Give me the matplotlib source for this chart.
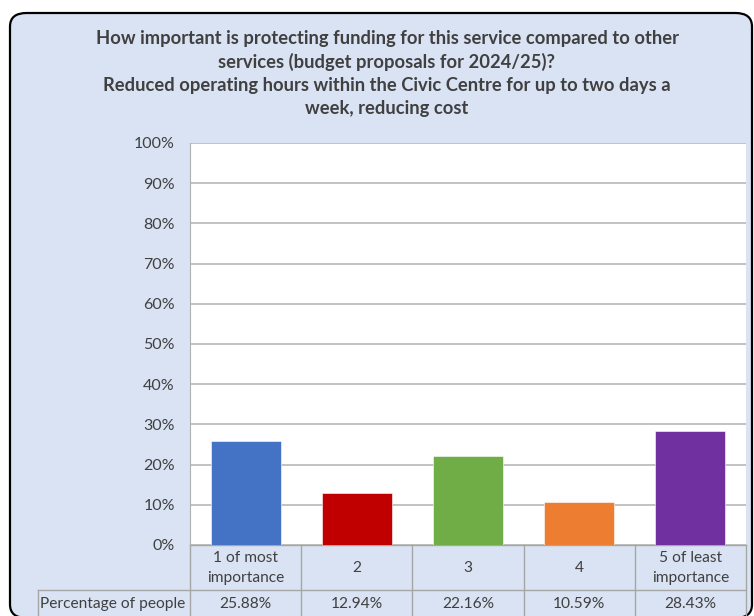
import matplotlib
matplotlib.use('Agg')
import matplotlib.pyplot as plt
from matplotlib.patches import FancyBboxPatch
import matplotlib.transforms as mtransforms

plt.rcParams['font.family'] = ['Lato', 'DejaVu Sans']

categories = ['1 of most\nimportance', '2', '3', '4', '5 of least\nimportance']
values = [25.88, 12.94, 22.16, 10.59, 28.43]
value_labels = ['25.88%', '12.94%', '22.16%', '10.59%', '28.43%']
row_label = 'Percentage of people'
colors = ['#4472c4', '#c00000', '#70ad47', '#ed7d31', '#7030a0']
title = ('How important is protecting funding for this service compared to other\n'
         'services (budget proposals for 2024/25)?\n'
         'Reduced operating hours within the Civic Centre for up to two days a\n'
         'week, reducing cost')

W, H = 754, 616
fig = plt.figure(figsize=(W/100, H/100), dpi=100)
fig.patch.set_facecolor('white')

def fx(px):
    return px / W

def fy(py):
    return 1 - py / H

# background panel with rounded corners
panel = FancyBboxPatch((fx(10), fy(618)), fx(742), 605/H,
                       boxstyle='round,pad=0,rounding_size=0.022',
                       transform=fig.transFigure, facecolor='#dae3f3',
                       edgecolor='black', linewidth=1.6, zorder=-5)
fig.patches.append(panel)

txtc = '#404040'
fig.text(fx(387), fy(30), title, ha='center', va='top', fontsize=13.2,
         fontweight='bold', color=txtc, linespacing=1.42)

ax = fig.add_axes([fx(190), fy(545), fx(746) - fx(190), (545-143)/H])
ax.set_facecolor('white')
x = list(range(len(values)))
ax.bar(x, values, width=0.63, color=colors, edgecolor='white', linewidth=0.4, zorder=3)
ax.set_xlim(-0.5, 4.5)
ax.set_ylim(0, 100)
ax.set_yticks(range(0, 101, 10))
ax.set_yticklabels([f'{v}%' for v in range(0, 101, 10)], fontsize=11.5, color=txtc)
ax.tick_params(axis='y', length=0, pad=11)
ax.set_xticks([])
ax.yaxis.grid(True, color='#b8b8b8', linewidth=1.2, zorder=0)
ax.set_axisbelow(True)
for s in ['top', 'right', 'bottom']:
    ax.spines[s].set_visible(False)
ax.spines['left'].set_color('#b0b0b0')

# data table under the plot
lc = '#a6a6a6'
trans = mtransforms.blended_transform_factory(ax.transData, fig.transFigure)
for i in range(len(values) + 1):
    ax.plot([i - 0.5, i - 0.5], [fy(545), fy(620)], color=lc, lw=1,
            transform=trans, clip_on=False)
ax.plot([-0.5, 4.5], [fy(545), fy(545)], color=lc, lw=1, transform=trans, clip_on=False)
fig.lines.append(plt.Line2D([fx(38), fx(746)], [fy(590), fy(590)], color=lc, lw=1,
                            transform=fig.transFigure))
fig.lines.append(plt.Line2D([fx(38), fx(38)], [fy(590), fy(620)], color=lc, lw=1,
                            transform=fig.transFigure))
for i, (c, v) in enumerate(zip(categories, value_labels)):
    ax.text(i, fy(568), c, transform=trans, ha='center', va='center',
            fontsize=11.2, color=txtc, linespacing=1.6)
    ax.text(i, fy(604), v, transform=trans, ha='center', va='center',
            fontsize=11.2, color=txtc)
fig.text(fx(113), fy(604), row_label, ha='center', va='center', fontsize=11.2, color=txtc)

fig.savefig('out.png', dpi=100)
